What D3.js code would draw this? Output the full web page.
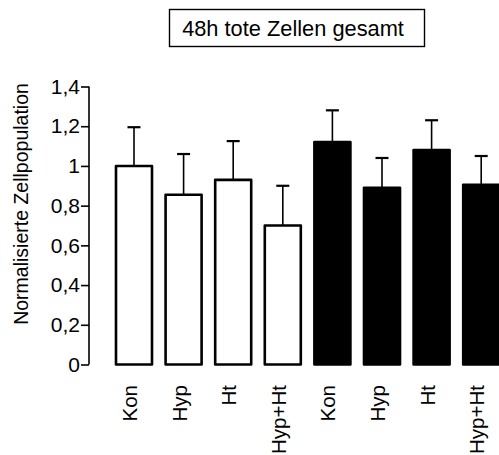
<!DOCTYPE html>
<html>
<head>
<meta charset="utf-8">
<script src="https://cdn.jsdelivr.net/npm/d3@7"></script>
<style>
  html, body { margin: 0; padding: 0; background: #fff; overflow: hidden; }
  svg { display: block; font-family: "Liberation Sans", Arial, sans-serif; }
</style>
</head>
<body>
<svg id="chart" width="499" height="455"></svg>
<script>
// Groups: four treatments, first set white, second set black
const categories = ["Kon", "Hyp", "Ht", "Hyp+Ht", "Kon", "Hyp", "Ht", "Hyp+Ht"];
const groupFill  = ["white", "white", "white", "white", "black", "black", "black", "black"];
const means      = [1.00, 0.855, 0.93, 0.70, 1.12, 0.89, 1.08, 0.905];
const errors     = [0.195, 0.205, 0.195, 0.20, 0.16, 0.15, 0.15, 0.145];
const yTicks     = [0, 0.2, 0.4, 0.6, 0.8, 1.0, 1.2, 1.4];
const title      = "48h tote Zellen gesamt";
const yTitle     = "Normalisierte Zellpopulation";

const svg = d3.select("#chart");

const y = d3.scaleLinear().domain([0, 1.4]).range([364.5, 86.5]);
const x = d3.scaleBand()
  .domain(d3.range(categories.length))
  .range([102.4, 512.8])
  .padding(0.274);

const fmt = v => v === 0 ? "0" : (v === 1 ? "1" : d3.format(".1f")(v).replace(".", ","));

// Y axis
const yAxis = svg.append("g")
  .attr("transform", "translate(89,0)")
  .call(d3.axisLeft(y).tickValues(yTicks).tickFormat(fmt).tickSize(8).tickPadding(1));
yAxis.select(".domain").attr("stroke", "#000").attr("stroke-width", 1.6).attr("d", `M0,${y(1.4)}V${y(0)}`);
yAxis.selectAll(".tick line").attr("stroke", "#000").attr("stroke-width", 1.6);
yAxis.selectAll(".tick text")
  .attr("font-size", 21)
  .attr("fill", "#000")
  .attr("font-family", "'Liberation Sans', Arial, sans-serif");

// Y axis title
svg.append("text")
  .attr("transform", "translate(28,204) rotate(-90)")
  .attr("text-anchor", "middle")
  .attr("font-size", 19.5)
  .text(yTitle);

// Error bars (drawn under the bars)
const eb = svg.append("g").attr("stroke", "#000");
categories.forEach((c, i) => {
  const cx = x(i) + x.bandwidth() / 2;
  eb.append("line")
    .attr("x1", cx).attr("x2", cx)
    .attr("y1", y(means[i])).attr("y2", y(means[i] + errors[i]))
    .attr("stroke-width", 1.6);
  eb.append("line")
    .attr("x1", cx - 6.5).attr("x2", cx + 6.5)
    .attr("y1", y(means[i] + errors[i])).attr("y2", y(means[i] + errors[i]))
    .attr("stroke-width", 2.2);
});

// Bars
svg.append("g").selectAll("rect")
  .data(means)
  .join("rect")
  .attr("x", (d, i) => x(i))
  .attr("width", x.bandwidth())
  .attr("y", d => y(d))
  .attr("height", d => y(0) - y(d))
  .attr("fill", (d, i) => groupFill[i])
  .attr("stroke", "#000")
  .attr("stroke-width", 2.6)
  .attr("stroke-linejoin", "round");

// Category labels, rotated
svg.append("g").selectAll("text")
  .data(categories)
  .join("text")
  .attr("transform", (d, i) => `translate(${x(i) + x.bandwidth() / 2 + 3},385) rotate(-90)`)
  .attr("text-anchor", "end")
  .attr("font-size", 20.5)
  .text(d => d);

// Boxed title
const tg = svg.append("g");
tg.append("rect")
  .attr("x", 169.5).attr("y", 9.5)
  .attr("width", 255).attr("height", 37)
  .attr("fill", "white").attr("stroke", "#000").attr("stroke-width", 1.4);
tg.append("text")
  .attr("x", 293).attr("y", 35.5)
  .attr("text-anchor", "middle")
  .attr("font-size", 21.8)
  .text(title);
</script>
</body>
</html>
